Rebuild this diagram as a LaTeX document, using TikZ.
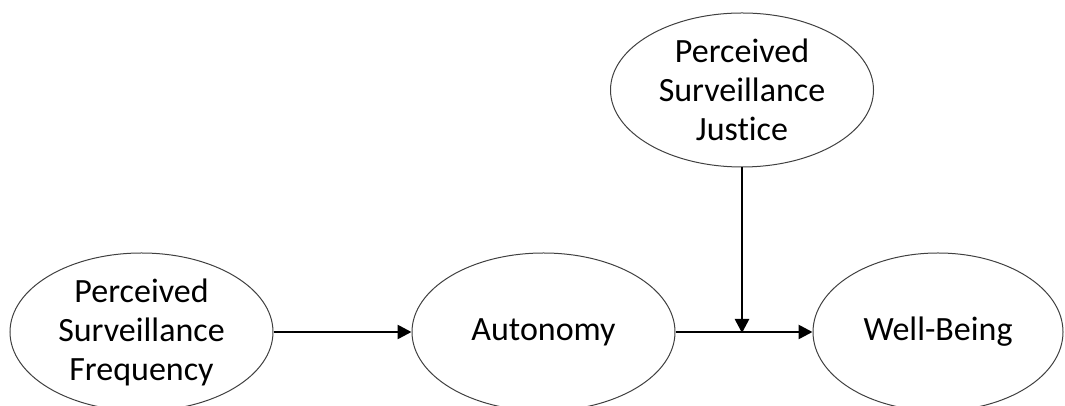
\documentclass[tikz,border=0pt]{standalone}
\usepackage{fontspec}
\setmainfont{Carlito}[Ligatures=NoCommon]
\usepackage{tikz}
\usetikzlibrary{shapes.geometric}
\usetikzlibrary{arrows.meta}

\begin{document}
\begin{tikzpicture}[
    x=1pt, y=1pt,
    ovalnode/.style={ellipse, draw=black!75, line width=1pt, inner sep=0pt,
        minimum width=263pt, minimum height=158pt, align=center,
        font=\fontsize{34}{39}\selectfont},
    linkarrow/.style={line width=2.6pt, -{Triangle[length=14pt, width=14pt]}}
]
    \clip (0,0) rectangle (1065,406);
    \useasboundingbox (0,0) rectangle (1065,406);
    % Variables
    \node at (141.5, 74) [ovalnode](frequency){Perceived\\Surveillance\\Frequency};
    \node at (543.5, 74) [ovalnode](autonomy){Autonomy};
    \node at (938, 74) [ovalnode, minimum width=250pt](wellbeing){Well-Being};
    \node at (742, 316) [ovalnode, minimum height=154pt](justice){Perceived\\Surveillance\\Justice};
    % Paths
    \draw [linkarrow] (frequency.east) -- (autonomy.west) ;
    \draw [linkarrow] (autonomy.east) -- (wellbeing.west) ;
    % -- Moderation onto the path
    \coordinate (joint) at (justice.south |- autonomy.east);
    \draw [linkarrow] (justice.south) -- ([yshift=-1pt]joint) ;
\end{tikzpicture}
\end{document}
